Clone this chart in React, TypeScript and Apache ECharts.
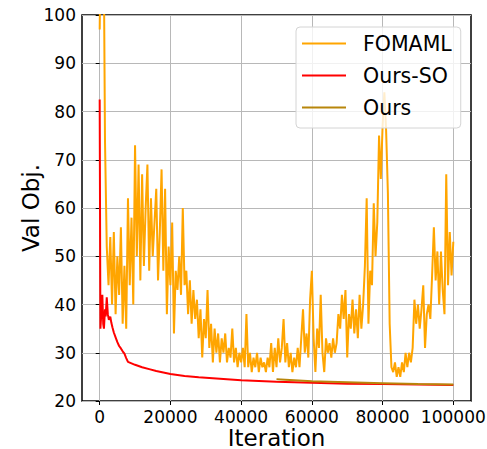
import React, { useEffect, useRef } from "react";
import * as echarts from "echarts";

const xTicks = [0, 20000, 40000, 60000, 80000, 100000];

// FOMAML validation objective, logged every 500 iterations (0 .. 100000)
const fomamlStep = 500;
const fomamlValues = [
  97, 130, 130, 74, 52, 44, 54, 40, 55, 38,
  50, 42, 56, 36, 48, 35, 62, 44, 58, 40,
  73, 50, 69, 45, 67, 48, 60, 69, 47, 62,
  50, 57, 64, 45, 55, 68, 47, 64, 38, 52,
  44, 57, 34, 47, 43, 50, 42, 60, 44, 47,
  38, 45, 36, 43, 37, 41, 33, 39, 29, 37,
  33, 43, 31, 36, 28, 35, 30, 34, 28, 33,
  30, 34, 28, 31, 29, 35, 28, 31, 27, 30,
  28, 31, 27, 38, 27, 30, 26, 29, 27, 30,
  26, 29, 27, 28, 26, 29, 27, 32, 26, 31,
  27, 33, 28, 31, 37, 28, 32, 27, 30, 26,
  29, 27, 31, 27, 33, 39, 30, 34, 29, 41,
  47, 33, 26, 35, 31, 42, 30, 26, 33, 30,
  32, 29, 33, 30, 32, 38, 35, 42, 37, 43,
  29, 38, 35, 41, 34, 39, 33, 42, 35, 40,
  48, 62, 36, 47, 44, 61, 50, 57, 75, 66,
  77, 84, 76, 63, 36, 27, 26, 28, 25, 27,
  25, 28, 26, 30, 27, 30, 28, 31, 41, 36,
  40, 35, 39, 44, 31, 38, 40, 37, 46, 56,
  45, 51, 40, 51, 43, 38, 67, 44, 55, 46,
  53,
];

// Ours-SO
const oursSoIters = [
  0, 200, 500, 750, 1000, 1200, 1500, 1700, 2000, 2300, 2600, 3000, 3300,
  3600, 4000, 4500, 5000, 5500, 6000, 6500, 7000, 7500, 8000, 9000, 10000,
  12000, 14000, 16000, 18000, 20000, 24000, 28000, 32000, 36000, 40000,
  50000, 60000, 70000, 80000, 90000, 100000,
];
const oursSoValues = [
  82.5, 35, 38.5, 42, 36, 35, 39, 37.5, 41.5, 38, 36.8, 37.5, 36.2,
  35.3, 34.2, 33.2, 32.2, 31.4, 30.9, 30.3, 29.8, 28.9, 28.1, 27.8, 27.5,
  27.0, 26.6, 26.2, 25.9, 25.6, 25.2, 24.9, 24.7, 24.5, 24.3,
  24.0, 23.8, 23.6, 23.5, 23.4, 23.3,
];

// Ours
const oursIters = [50000, 60000, 70000, 80000, 90000, 100000];
const oursValues = [24.5, 24.1, 23.9, 23.7, 23.5, 23.4];

const FONT = "DejaVu Sans";

export default function App() {
  const ref = useRef<HTMLDivElement>(null);
  useEffect(() => {
    if (!ref.current) return;
    const chart = echarts.init(ref.current, undefined, { renderer: "svg" });
    const fomamlData = fomamlValues.map((v, i) => [i * fomamlStep, v]);
    const oursSoData = oursSoIters.map((x, i) => [x, oursSoValues[i]]);
    const oursData = oursIters.map((x, i) => [x, oursValues[i]]);
    chart.setOption({
      animation: false,
      textStyle: { fontFamily: FONT },
      grid: {
        left: 82,
        right: 16,
        top: 15,
        bottom: 48,
        outerBoundsMode: "none",
        containLabel: false,
        show: true,
        borderColor: "#000",
        borderWidth: 1.5,
        backgroundColor: "transparent",
      },
      legend: {
        orient: "vertical",
        left: 296,
        top: 27,
        padding: [6, 9, 10, 6],
        itemGap: 11,
        itemWidth: 44,
        itemHeight: 2,
        icon: "rect",
        backgroundColor: "rgba(255,255,255,0.8)",
        borderColor: "#d4d4d4",
        borderWidth: 1,
        borderRadius: 4,
        textStyle: {
          fontFamily: FONT,
          fontSize: 20.5,
          lineHeight: 20,
          color: "#000",
          padding: [0, 0, 0, 12],
        },
        data: ["FOMAML", "Ours-SO", "Ours"],
      },
      xAxis: {
        type: "value",
        min: -5000,
        max: 105000,
        name: "Iteration",
        nameLocation: "middle",
        nameGap: 25,
        nameMoveOverlap: false,
        nameTextStyle: { fontFamily: FONT, fontSize: 23, color: "#000" },
        axisLine: { show: false },
        axisTick: {
          show: true,
          length: 4,
          lineStyle: { color: "#000", width: 1 },
          customValues: xTicks,
        },
        axisLabel: {
          fontFamily: FONT,
          fontSize: 17,
          color: "#000",
          margin: 7,
          customValues: xTicks,
          formatter: (v: number) => String(v),
        },
        splitLine: { show: true, lineStyle: { color: "#b8b8b8", width: 1 } },
      },
      yAxis: {
        type: "value",
        min: 20,
        max: 100,
        interval: 10,
        name: "Val Obj.",
        nameLocation: "middle",
        nameGap: 40,
        nameMoveOverlap: false,
        nameTextStyle: { fontFamily: FONT, fontSize: 23, color: "#000" },
        axisLine: { show: false },
        axisTick: {
          show: true,
          length: 4,
          lineStyle: { color: "#000", width: 1 },
        },
        axisLabel: { fontFamily: FONT, fontSize: 17, color: "#000", margin: 6 },
        splitLine: { show: true, lineStyle: { color: "#b8b8b8", width: 1 } },
      },
      series: [
        {
          name: "FOMAML",
          type: "line",
          data: fomamlData,
          showSymbol: false,
          symbol: "none",
          color: "#FFA500",
          lineStyle: { color: "#FFA500", width: 2 },
          clip: true,
        },
        {
          name: "Ours-SO",
          type: "line",
          data: oursSoData,
          showSymbol: false,
          symbol: "none",
          color: "#FF0000",
          lineStyle: { color: "#FF0000", width: 2 },
          clip: true,
        },
        {
          name: "Ours",
          type: "line",
          data: oursData,
          showSymbol: false,
          symbol: "none",
          color: "#B8860B",
          lineStyle: { color: "#B8860B", width: 2 },
          clip: true,
        },
      ],
    });
    return () => chart.dispose();
  }, []);
  return <div ref={ref} style={{ width: 487, height: 449, position: "absolute", left: 0, top: 0 }} />;
}
